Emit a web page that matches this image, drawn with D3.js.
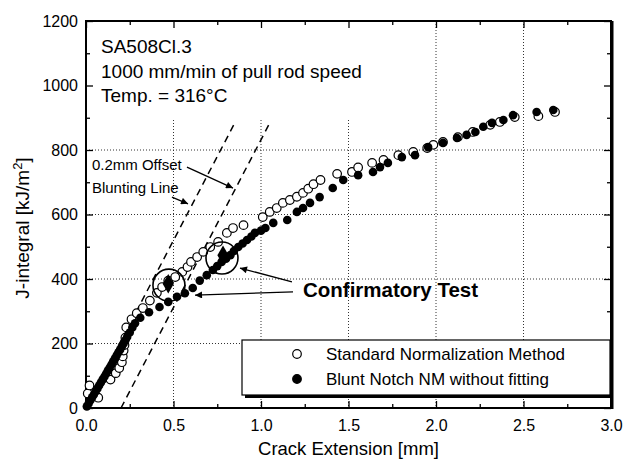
<!DOCTYPE html>
<html><head><meta charset="utf-8">
<script src="https://cdn.jsdelivr.net/npm/d3@7"></script>
<style>body{margin:0;background:#fff;} text{font-family:"Liberation Sans",Arial,Helvetica,sans-serif;fill:#000;}</style>
</head><body><svg id="c" width="626" height="463"></svg>
<script>
// ---- data (crack extension [mm], J-integral [kJ/m^2]) ----
const standardNM = [
 [0.01,45],[0.02,70],[0.07,32],[0.14,88],[0.17,108],[0.19,124],[0.205,142],[0.21,160],
 [0.215,178],[0.22,195],[0.225,218],[0.23,250],[0.26,275],[0.29,294],[0.325,310],[0.365,333],
 [0.405,357],[0.435,375],[0.47,395],[0.51,406],[0.55,422],[0.58,437],[0.6,453],[0.635,468],
 [0.67,484],[0.71,499],[0.755,515],[0.805,543],[0.84,558],[0.9,567],[1.01,592],[1.05,608],
 [1.09,620],[1.125,636],[1.165,645],[1.205,655],[1.24,667],[1.27,680],[1.3,694],[1.34,707],
 [1.435,726],[1.52,732],[1.555,746],[1.635,760],[1.7,769],[1.785,784],[1.87,794],[1.95,806],
 [1.985,816],[2.04,825],[2.125,840],[2.21,856],[2.31,878],[2.365,887],[2.45,902],[2.585,905],[2.68,918]
];
const bluntNotchNM = [
 [0.005,5],[0.015,14],[0.025,24],[0.035,33],[0.045,42],[0.055,51],[0.065,60],[0.075,70],
 [0.085,79],[0.095,88],[0.105,97],[0.115,106],[0.125,116],[0.135,125],[0.145,134],[0.155,144],
 [0.165,153],[0.175,163],[0.185,172],[0.195,181],[0.205,191],[0.215,200],[0.225,210],[0.235,220],
 [0.25,234],[0.265,250],[0.28,263],[0.31,280],[0.36,297],[0.42,313],[0.47,329],[0.52,345],
 [0.565,356],[0.61,372],[0.65,395],[0.69,412],[0.725,428],[0.75,440],[0.775,453],[0.8,463],
 [0.825,474],[0.845,487],[0.87,499],[0.895,510],[0.92,521],[0.945,532],[0.965,543],[1.0,550],
 [1.025,558],[1.07,574],[1.15,583],[1.205,608],[1.24,620],[1.28,636],[1.335,654],[1.41,682],
 [1.47,707],[1.555,722],[1.64,732],[1.68,747],[1.725,760],[1.805,778],[1.88,784],[1.955,809],
 [2.04,822],[2.12,837],[2.175,847],[2.225,856],[2.27,872],[2.32,884],[2.385,893],[2.44,908],
 [2.575,918],[2.67,924]
];
const confirmatoryPoints = [[0.47,385],[0.783,474]];
const confirmatoryCircles = [[0.474,381],[0.777,465]];
const bluntingLine = [[0,0],[0.856,890]];
const offsetLine = [[0.2,0],[1.056,890]];
const xTicks = [0,0.5,1.0,1.5,2.0,2.5,3.0];
const xMinor = [0.25,0.75,1.25,1.75,2.25,2.75];
const yTicks = [0,200,400,600,800,1000,1200];
const yMinor = [100,300,500,700,900,1100];
const gridX = [0.5,1.0,1.5,2.0,2.5];
const gridY = [200,400,600,800];
const headerLines = ["SA508Cl.3","1000 mm/min of pull rod speed","Temp. = 316°C"];
const legendLabels = ["Standard Normalization Method","Blunt Notch NM without fitting"];
const xTitle = "Crack Extension [mm]";
const noteOffset = "0.2mm Offset", noteBlunt = "Blunting Line", noteConfirm = "Confirmatory Test";
const arrowsData = [
 {from:[0.577,747], to:[0.84,682]},
 {from:[0.491,654], to:[0.583,633]},
 {from:[1.177,391], to:[0.88,434]},
 {from:[1.183,360], to:[0.623,350]}
];

// ---- layout ----
const L=86, R=611, T=21, B=408;
const svg=d3.select("#c");
const x=d3.scaleLinear().domain([0,3]).range([L,R]);
const y=d3.scaleLinear().domain([0,1200]).range([B,T]);

svg.append("defs").append("marker").attr("id","ah").attr("viewBox","0 0 10 10")
 .attr("refX",10).attr("refY",5).attr("markerWidth",9).attr("markerHeight",7)
 .attr("markerUnits","userSpaceOnUse").attr("orient","auto")
 .append("path").attr("d","M0,0L10,5L0,10z").attr("fill","#000");

// grid
const g=svg.append("g");
g.selectAll(".gx").data(gridX).enter().append("line")
 .attr("x1",d=>x(d)).attr("x2",d=>x(d)).attr("y1",T).attr("y2",B)
 .attr("stroke","#333").attr("stroke-width",1).attr("stroke-dasharray","1,2");
g.selectAll(".gy").data(gridY).enter().append("line")
 .attr("y1",d=>y(d)).attr("y2",d=>y(d)).attr("x1",L).attr("x2",R)
 .attr("stroke","#333").attr("stroke-width",1).attr("stroke-dasharray","1,2");

// white box behind header
svg.append("rect").attr("x",L+2).attr("y",T+2).attr("width",296).attr("height",95).attr("fill","#fff");

// axes
function styleAxis(sel){sel.selectAll(".domain").remove();sel.selectAll("line").attr("stroke","#000").attr("stroke-width",1.3);
 sel.selectAll("text").style("font-size","16px").style("font-family","'Liberation Sans',Arial,sans-serif");}
svg.append("g").attr("transform",`translate(0,${B})`).call(d3.axisBottom(x).tickValues(xTicks).tickSize(-7).tickPadding(12).tickFormat(d3.format(".1f"))).call(styleAxis);
svg.append("g").attr("transform",`translate(0,${B})`).call(d3.axisBottom(x).tickValues(xMinor).tickSize(-4).tickFormat("")).call(styleAxis);
svg.append("g").attr("transform",`translate(0,${T})`).call(d3.axisTop(x).tickValues(xTicks).tickSize(-7).tickFormat("")).call(styleAxis);
svg.append("g").attr("transform",`translate(0,${T})`).call(d3.axisTop(x).tickValues(xMinor).tickSize(-4).tickFormat("")).call(styleAxis);
svg.append("g").attr("transform",`translate(${L},0)`).call(d3.axisLeft(y).tickValues(yTicks).tickSize(-7).tickPadding(8).tickFormat(d3.format("d"))).call(styleAxis);
svg.append("g").attr("transform",`translate(${L},0)`).call(d3.axisLeft(y).tickValues(yMinor).tickSize(-4).tickFormat("")).call(styleAxis);
svg.append("g").attr("transform",`translate(${R},0)`).call(d3.axisRight(y).tickValues(yTicks).tickSize(-7).tickFormat("")).call(styleAxis);
svg.append("g").attr("transform",`translate(${R},0)`).call(d3.axisRight(y).tickValues(yMinor).tickSize(-4).tickFormat("")).call(styleAxis);

// frame
svg.append("rect").attr("x",L).attr("y",T).attr("width",R-L).attr("height",B-T).attr("fill","none").attr("stroke","#000").attr("stroke-width",2);
svg.append("line").attr("x1",R+1).attr("x2",R+1).attr("y1",T).attr("y2",B+1).attr("stroke","#000").attr("stroke-width",3);

// header text
svg.append("g").selectAll("text").data(headerLines).enter().append("text")
 .attr("x",101).attr("y",(d,i)=>53+i*24.5).style("font-size","19px").text(d=>d);

// dashed lines
const line=d3.line().x(d=>x(d[0])).y(d=>y(d[1]));
[bluntingLine,offsetLine].forEach(l=>svg.append("path").attr("d",line(l)).attr("fill","none")
 .attr("stroke","#000").attr("stroke-width",1.5).attr("stroke-dasharray","7,5"));

// data
svg.append("g").selectAll("circle").data(standardNM).enter().append("circle")
 .attr("cx",d=>x(d[0])).attr("cy",d=>y(d[1])).attr("r",4.3).attr("fill","#fff").attr("stroke","#000").attr("stroke-width",1.2);
svg.append("g").selectAll("circle").data(bluntNotchNM).enter().append("circle")
 .attr("cx",d=>x(d[0])).attr("cy",d=>y(d[1])).attr("r",4.3).attr("fill","#000");

// confirmatory
svg.append("g").selectAll("path").data(confirmatoryPoints).enter().append("path")
 .attr("d",d3.symbol().type(d3.symbolDiamond).size(110))
 .attr("transform",d=>`translate(${x(d[0])},${y(d[1])})`).attr("fill","#000");
svg.append("g").selectAll("circle").data(confirmatoryCircles).enter().append("circle")
 .attr("cx",d=>x(d[0])).attr("cy",d=>y(d[1])).attr("r",16).attr("fill","none").attr("stroke","#000").attr("stroke-width",1.6);

// annotations
svg.append("text").attr("x",x(0.034)).attr("y",y(738)).style("font-size","15px").text(noteOffset);
svg.append("text").attr("x",x(0.034)).attr("y",y(667)).style("font-size","15px").text(noteBlunt);
svg.append("text").attr("x",x(1.24)).attr("y",y(344)).style("font-size","20.5px").style("font-weight","bold").text(noteConfirm);
svg.append("g").selectAll("line").data(arrowsData).enter().append("line")
 .attr("x1",d=>x(d.from[0])).attr("y1",d=>y(d.from[1])).attr("x2",d=>x(d.to[0])).attr("y2",d=>y(d.to[1]))
 .attr("stroke","#000").attr("stroke-width",1.3).attr("marker-end","url(#ah)");

// legend
const lg=svg.append("g");
lg.append("rect").attr("x",245).attr("y",343).attr("width",368).attr("height",55).attr("fill","#000");
lg.append("rect").attr("x",242).attr("y",340).attr("width",368).attr("height",55).attr("fill","#fff").attr("stroke","#000").attr("stroke-width",1.2);
legendLabels.forEach((t,i)=>{
 const cy=354+i*25;
 lg.append("circle").attr("cx",297).attr("cy",cy).attr("r",4.3).attr("fill",i?"#000":"#fff").attr("stroke","#000").attr("stroke-width",1.2);
 lg.append("text").attr("x",326).attr("y",cy+6).style("font-size","17px").text(t);
});

// axis titles
svg.append("text").attr("x",(L+R)/2).attr("y",455).attr("text-anchor","middle").style("font-size","18.5px").text(xTitle);
const yt=svg.append("text").attr("transform","translate(29,228) rotate(-90)").attr("text-anchor","middle").style("font-size","19px");
yt.append("tspan").text("J-integral [kJ/m");
yt.append("tspan").attr("dy",-7).style("font-size","13px").text("2");
yt.append("tspan").attr("dy",7).text("]");
</script></body></html>
